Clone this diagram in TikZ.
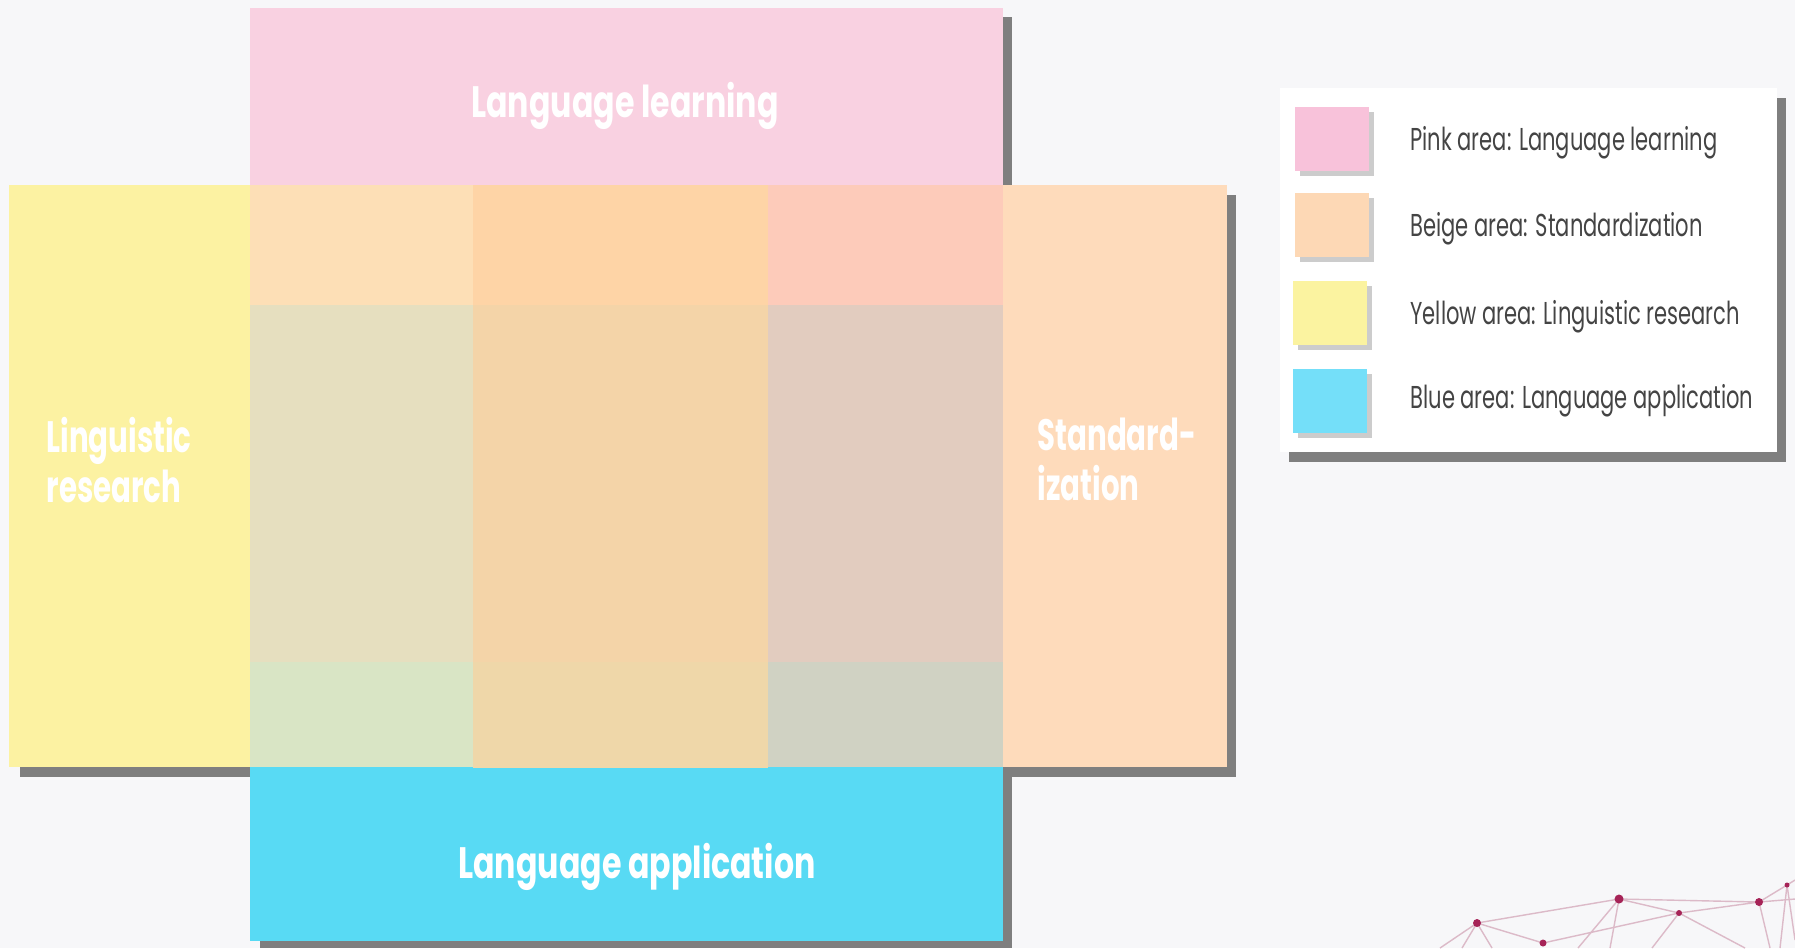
\documentclass[tikz,border=0pt]{standalone}
\usepackage{fontspec}
\newfontfamily\areafont[FakeStretch=0.72]{Poppins}
\newfontfamily\sidefont[FakeStretch=0.665]{Poppins}
\newfontfamily\legendfont[FakeStretch=0.665]{Poppins}
\usetikzlibrary{positioning, shadows}

% --- Colores ---
\definecolor{bgcolor}{HTML}{F7F7F9}
\definecolor{shadowgray}{HTML}{7F7F7F}
\definecolor{pinkarea}{HTML}{F9D1E1}
\definecolor{yellowarea}{HTML}{FCF2A2}
\definecolor{beigearea}{HTML}{FEDBBB}
\definecolor{bluearea}{HTML}{58DAF4}
\definecolor{cellA}{HTML}{FDDFB6}
\definecolor{cellB}{HTML}{FED4A6}
\definecolor{cellC}{HTML}{FDCBBA}
\definecolor{cellD}{HTML}{E6DFBF}
\definecolor{cellE}{HTML}{F4D4A8}
\definecolor{cellF}{HTML}{E2CCBF}
\definecolor{cellG}{HTML}{D9E5C5}
\definecolor{cellH}{HTML}{EFD7A9}
\definecolor{cellI}{HTML}{D0D2C3}
\definecolor{legpink}{HTML}{F8C2DA}
\definecolor{legbeige}{HTML}{FDD8B5}
\definecolor{legyellow}{HTML}{FBF3A0}
\definecolor{legblue}{HTML}{74DFF9}
\definecolor{legendtext}{HTML}{444444}
\definecolor{netline}{HTML}{DCBAC8}
\definecolor{netdot}{HTML}{A62357}

\begin{document}
\begin{tikzpicture}[
        x=0.01cm, y=-0.01cm,
        area_label/.style={text=white, inner sep=0pt, font=\areafont\bfseries\fontsize{12.5}{14.2}\selectfont},
        side_label/.style={text=white, inner sep=0pt, align=left, anchor=west, font=\sidefont\bfseries\fontsize{12.5}{14.2}\selectfont},
        shadow_box/.style={fill=shadowgray},
        swatch/.style={rectangle, inner sep=0pt, minimum width=0.74cm, minimum height=0.63cm,
            drop shadow={shadow xshift=0.05cm, shadow yshift=-0.05cm, fill=black, opacity=0.2}},
        legend_text/.style={text=legendtext, inner sep=0pt, font=\legendfont\fontsize{9}{11}\selectfont},
        net_line/.style={draw=netline, line width=0.4pt},
        net_dot/.style={circle, fill=netdot, inner sep=0pt}
    ]
        % --- Fondo ---
        \fill[bgcolor] (0,0) rectangle (1795,948);
        \useasboundingbox (0,0) rectangle (1795,948);

        % --- Sombras ---
        \fill[shadow_box] (259,17) rectangle (1012,194);
        \fill[shadow_box] (20,195) rectangle (259,777);
        \fill[shadow_box] (1003,195) rectangle (1236,777);
        \fill[shadow_box] (260,777) rectangle (1012,948);
        \fill[shadow_box] (1289,98) rectangle (1786,462);

        % --- Cuatro areas ---
        \fill[pinkarea] (250,8) rectangle (1003,185);
        \fill[yellowarea] (9,185) rectangle (250,767);
        \fill[beigearea] (1003,185) rectangle (1227,767);
        \fill[bluearea] (250,767) rectangle (1003,941);

        % --- Celdas centrales (solapes) ---
        \fill[cellA] (250,185) rectangle (473,305);
        \fill[cellB] (473,185) rectangle (768,305);
        \fill[cellC] (768,185) rectangle (1003,305);
        \fill[cellD] (250,305) rectangle (473,662);
        \fill[cellE] (473,305) rectangle (768,662);
        \fill[cellF] (768,305) rectangle (1003,662);
        \fill[cellG] (250,662) rectangle (473,767);
        \fill[cellH] (473,662) rectangle (768,768);
        \fill[cellI] (768,662) rectangle (1003,767);

        % --- Etiquetas ---
        \node[area_label] (learning_label) at (625,106) {Language learning};
        \node[side_label] (research_label) at (46,460) {Linguistic\\research};
        \node[side_label] (standard_label) at (1037,459) {Standard-\\ization};
        \node[area_label] (application_label) at (637,867) {Language application};

        % --- Leyenda ---
        \fill[white] (1280,88) rectangle (1777,452);
        \node[swatch, fill=legpink] (sw_pink) at (1332,139) {};
        \node[swatch, fill=legbeige] (sw_beige) at (1332,225) {};
        \node[swatch, fill=legyellow] (sw_yellow) at (1330,313) {};
        \node[swatch, fill=legblue] (sw_blue) at (1330,401) {};
        \node[legend_text, right=0.4cm of sw_pink.east, anchor=west, yshift=-0.035cm] (txt_pink) {Pink area: Language learning};
        \node[legend_text, right=0.4cm of sw_beige.east, anchor=west, yshift=-0.035cm] (txt_beige) {Beige area: Standardization};
        \node[legend_text, right=0.42cm of sw_yellow.east, anchor=west, yshift=-0.035cm] (txt_yellow) {Yellow area: Linguistic research};
        \node[legend_text, right=0.42cm of sw_blue.east, anchor=west, yshift=0.0cm] (txt_blue) {Blue area: Language application};

        % --- Red decorativa (esquina inferior derecha) ---
        \coordinate (n1) at (1477,923);
        \coordinate (n2) at (1543,943);
        \coordinate (n3) at (1619,899);
        \coordinate (n4) at (1679,913);
        \coordinate (n5) at (1759,902);
        \coordinate (n6) at (1787,885);
        \draw[net_line] (n1) -- (n3) (n1) -- (n2) (n2) -- (n4) (n3) -- (n4)
            (n3) -- (n5) (n4) -- (n5) (n5) -- (n6) (n5) -- (1795,899) (n6) -- (1795,880);
        \draw[net_line] (n1) -- (1440,948) (n1) -- (1462,948) (n1) -- (1492,948)
            (n3) -- (1578,948) (n3) -- (1610,948) (n4) -- (1652,948) (n4) -- (1745,948)
            (n5) -- (1770,948) (n6) -- (1780,948) (n6) -- (1795,940);
        \node[net_dot, minimum size=0.08cm] (d1) at (n1) {};
        \node[net_dot, minimum size=0.07cm] (d2) at (n2) {};
        \node[net_dot, minimum size=0.09cm] (d3) at (n3) {};
        \node[net_dot, minimum size=0.06cm] (d4) at (n4) {};
        \node[net_dot, minimum size=0.08cm] (d5) at (n5) {};
        \node[net_dot, minimum size=0.05cm] (d6) at (n6) {};
    \end{tikzpicture}
\end{document}
